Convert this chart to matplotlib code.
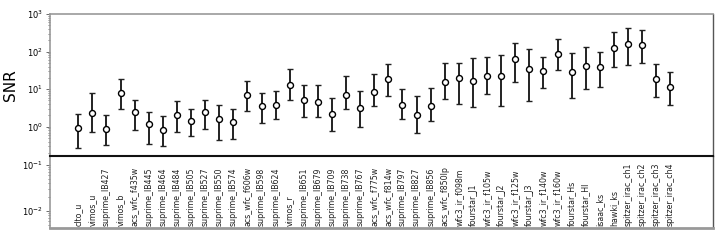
"""SNR per photometric band, with asymmetric error bars and band labels below."""

import matplotlib

matplotlib.use("Agg")
import matplotlib.pyplot as plt
import numpy as np

# Band names (plot order)
BANDS = [
    "clto_u", "vimos_u", "suprime_IB427", "vimos_b", "acs_wfc_f435w",
    "suprime_IB445", "suprime_IB464", "suprime_IB484", "suprime_IB505",
    "suprime_IB527", "suprime_IB550", "suprime_IB574", "acs_wfc_f606w",
    "suprime_IB598", "suprime_IB624", "vimos_r", "suprime_IB651",
    "suprime_IB679", "suprime_IB709", "suprime_IB738", "suprime_IB767",
    "acs_wfc_f775w", "acs_wfc_f814w", "suprime_IB797", "suprime_IB827",
    "suprime_IB856", "acs_wfc_f850lp", "wfc3_ir_f098m", "fourstar_J1",
    "wfc3_ir_f105w", "fourstar_J2", "wfc3_ir_f125w", "fourstar_J3",
    "wfc3_ir_f140w", "wfc3_ir_f160w", "fourstar_Hs", "fourstar_Hl",
    "isaac_ks", "hawki_ks", "spitzer_irac_ch1", "spitzer_irac_ch2",
    "spitzer_irac_ch3", "spitzer_irac_ch4",
]

# SNR value, upper and lower ends of the error bar
SNR = [
    0.94, 2.31, 0.88, 8.0, 2.4, 1.2, 0.83, 2.0, 1.39, 2.4, 1.63, 1.33, 6.8,
    3.5, 3.85, 12.6, 5.3, 4.6, 2.17, 7.1, 3.07, 8.5, 18.2, 3.7, 2.04, 3.6,
    15.7, 20.0, 16.4, 23.0, 22.7, 62.0, 33.5, 30.0, 87.0, 28.0, 42.0, 38.6,
    126.0, 161.0, 149.0, 18.2, 11.1,
]
SNR_HI = [
    2.13, 7.7, 2.0, 18.9, 5.3, 2.4, 1.96, 4.9, 3.0, 5.0, 3.7, 2.9, 16.4,
    7.7, 9.2, 33.5, 12.6, 13.1, 6.0, 21.8, 9.2, 24.7, 46.0, 9.8, 6.7, 10.9,
    51.0, 51.0, 66.0, 73.0, 79.0, 164.0, 116.0, 73.0, 215.0, 89.0, 131.0,
    95.0, 323.0, 412.0, 380.0, 48.0, 28.0,
]
SNR_LO = [
    0.27, 0.74, 0.33, 3.0, 0.81, 0.35, 0.31, 0.74, 0.56, 0.85, 0.44, 0.46,
    2.56, 1.23, 1.57, 5.1, 1.85, 1.85, 0.78, 3.0, 0.96, 3.5, 6.7, 1.57, 0.67,
    1.44, 5.6, 4.0, 3.4, 7.4, 3.6, 15.1, 4.9, 10.9, 33.0, 5.7, 9.8, 11.6,
    40.0, 45.0, 49.0, 6.2, 3.8,
]


def main():
    x = np.arange(len(BANDS))
    snr = np.array(SNR)
    yerr = [snr - np.array(SNR_LO), np.array(SNR_HI) - snr]

    fig = plt.figure(figsize=(7.23, 2.41), dpi=100)
    ax_lab = fig.add_axes([0.0692, 0.0527, 0.9165, 0.3013])
    ax = fig.add_axes([0.0692, 0.354, 0.9165, 0.588])
    ax.set_zorder(3)

    ax.errorbar(
        x, snr, yerr=yerr,
        fmt="o", color="#222222", ecolor="#222222",
        elinewidth=1.4, capsize=2, capthick=1.2,
        markersize=4.3, markerfacecolor="white", markeredgecolor="black",
        markeredgewidth=1.0,
    )
    ax.set_yscale("log")
    ax.set_ylim(0.17, 1000)
    ax.set_xlim(-2, 45)
    ax.set_xticks([])
    ax.set_ylabel("SNR", fontsize=11)
    ax.yaxis.set_label_coords(-0.048, 0.5)

    # Label panel: band names written under each point
    ax_lab.set_yscale("log")
    ax_lab.set_ylim(0.0042, 0.159)
    ax_lab.set_xlim(-2, 45)
    ax_lab.set_xticks([])
    for xi, name in zip(x, BANDS):
        ax_lab.text(
            xi, 0.0047, name, rotation=90, ha="center", va="bottom",
            fontsize=5.7, color="#222222",
        )

    for a in (ax, ax_lab):
        a.tick_params(axis="y", which="major", labelsize=6, length=3,
                      width=0.6, color="#555555", pad=2)
        a.tick_params(axis="y", which="minor", length=1.5, width=0.5,
                      color="#555555")
        for side in ("left", "top", "bottom"):
            a.spines[side].set_color("#999999")
            a.spines[side].set_linewidth(1.2)
        a.spines["right"].set_color("#555555")
        a.spines["right"].set_linewidth(1.0)

    # Divider between data and labels
    ax.spines["bottom"].set_color("#111111")
    ax.spines["bottom"].set_linewidth(1.5)
    ax_lab.spines["top"].set_visible(False)
    ax_lab.spines["bottom"].set_linewidth(2)

    fig.savefig("out.png", dpi=100)
    plt.close(fig)


if __name__ == "__main__":
    main()
